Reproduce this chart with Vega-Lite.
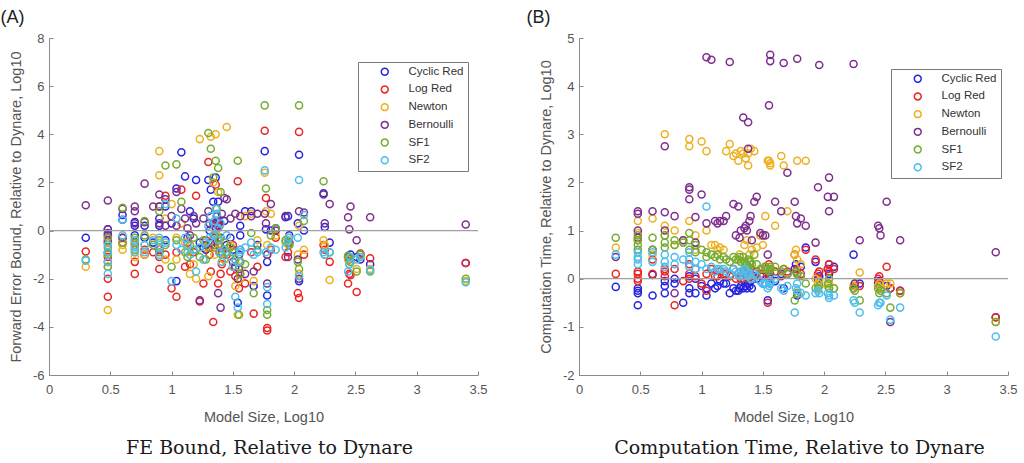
{
"$schema":"https://vega.github.io/schema/vega-lite/v6.json",
"background":"white",
"padding":{"left":0,"top":8,"right":8,"bottom":4},
"spacing":101,
"bounds":"flush",
"config":{"view":{"stroke":null},"font":"Liberation Sans",
"axis":{"grid":false,"domainColor":"#8a8a8a","tickColor":"#8a8a8a","tickSize":-4,"labelFontSize":13,"labelColor":"#555555","titleFontSize":14.5,"titleColor":"#555555","titleFontWeight":"normal","labelFont":"Liberation Sans","titleFont":"Liberation Sans"},
"legend":{"title":null,"orient":"none","direction":"vertical","strokeColor":"#7a7a7a","fillColor":"#ffffff","padding":4,"symbolOffset":17,"labelOffset":18,"rowPadding":3.7,"labelFontSize":11.5,"labelFont":"Liberation Sans","labelColor":"#333333","symbolSize":48,"symbolStrokeWidth":1.5,"symbolType":"circle"}},
"resolve":{"scale":{"color":"independent"},"legend":{"color":"independent"}},
"datasets":{"pts":[
{"m":"Cyclic Red","x":0.30,"fe":-0.3,"ct":-0.17},{"m":"Cyclic Red","x":0.48,"fe":0.05,"ct":-0.25},{"m":"Cyclic Red","x":0.48,"fe":-0.2,"ct":-0.3},{"m":"Cyclic Red","x":0.48,"fe":-0.9,"ct":-0.55},{"m":"Cyclic Red","x":0.48,"fe":-0.5,"ct":-0.2},{"m":"Cyclic Red","x":0.60,"fe":0.65,"ct":-0.35},{"m":"Cyclic Red","x":0.60,"fe":0.45,"ct":0.08},{"m":"Cyclic Red","x":0.70,"fe":0.35,"ct":-0.3},{"m":"Cyclic Red","x":0.70,"fe":0.2,"ct":-0.15},{"m":"Cyclic Red","x":0.70,"fe":-0.2,"ct":-0.05},{"m":"Cyclic Red","x":0.78,"fe":0.2,"ct":-0.1},{"m":"Cyclic Red","x":0.78,"fe":-0.3,"ct":0.0},{"m":"Cyclic Red","x":0.85,"fe":-0.5,"ct":-0.5},{"m":"Cyclic Red","x":0.90,"fe":0.2,"ct":-0.2},{"m":"Cyclic Red","x":0.90,"fe":-0.8,"ct":0.05},{"m":"Cyclic Red","x":0.90,"fe":0.5,"ct":-0.3},{"m":"Cyclic Red","x":0.95,"fe":1.0,"ct":-0.3},{"m":"Cyclic Red","x":0.95,"fe":-0.4,"ct":0.0},{"m":"Cyclic Red","x":1.00,"fe":0.3,"ct":-0.15},{"m":"Cyclic Red","x":1.04,"fe":1.75,"ct":-0.35},{"m":"Cyclic Red","x":1.04,"fe":-2.1,"ct":-0.2},{"m":"Cyclic Red","x":1.08,"fe":3.25,"ct":-0.1},{"m":"Cyclic Red","x":1.11,"fe":2.25,"ct":-0.2},{"m":"Cyclic Red","x":1.13,"fe":-0.3,"ct":-0.15},{"m":"Cyclic Red","x":1.15,"fe":0.8,"ct":-0.05},{"m":"Cyclic Red","x":1.18,"fe":0.5,"ct":-0.1},{"m":"Cyclic Red","x":1.20,"fe":2.1,"ct":-0.1},{"m":"Cyclic Red","x":1.23,"fe":-0.5,"ct":-0.3},{"m":"Cyclic Red","x":1.26,"fe":-0.7,"ct":-0.2},{"m":"Cyclic Red","x":1.28,"fe":-0.8,"ct":-0.25},{"m":"Cyclic Red","x":1.30,"fe":2.1,"ct":-0.25},{"m":"Cyclic Red","x":1.31,"fe":0.0,"ct":-0.2},{"m":"Cyclic Red","x":1.32,"fe":1.7,"ct":-0.15},{"m":"Cyclic Red","x":1.34,"fe":1.2,"ct":-0.2},{"m":"Cyclic Red","x":1.35,"fe":-0.6,"ct":-0.05},{"m":"Cyclic Red","x":1.36,"fe":2.2,"ct":-0.15},{"m":"Cyclic Red","x":1.37,"fe":0.6,"ct":-0.2},{"m":"Cyclic Red","x":1.38,"fe":1.2,"ct":-0.1},{"m":"Cyclic Red","x":1.38,"fe":0.2,"ct":-0.1},{"m":"Cyclic Red","x":1.39,"fe":0.3,"ct":-0.15},{"m":"Cyclic Red","x":1.40,"fe":-0.3,"ct":-0.05},{"m":"Cyclic Red","x":1.41,"fe":-0.9,"ct":-0.2},{"m":"Cyclic Red","x":1.43,"fe":0.4,"ct":0.05},{"m":"Cyclic Red","x":1.45,"fe":-0.6,"ct":0.0},{"m":"Cyclic Red","x":1.48,"fe":-0.3,"ct":0.05},{"m":"Cyclic Red","x":1.50,"fe":-0.8,"ct":-0.1},{"m":"Cyclic Red","x":1.52,"fe":-1.5,"ct":-0.1},{"m":"Cyclic Red","x":1.54,"fe":-3.0,"ct":-0.45},{"m":"Cyclic Red","x":1.55,"fe":-1.0,"ct":0.05},{"m":"Cyclic Red","x":1.56,"fe":-0.2,"ct":-0.1},{"m":"Cyclic Red","x":1.56,"fe":0.2,"ct":0.0},{"m":"Cyclic Red","x":1.60,"fe":0.8,"ct":-0.05},{"m":"Cyclic Red","x":1.65,"fe":0.8,"ct":0.1},{"m":"Cyclic Red","x":1.67,"fe":-2.3,"ct":-0.2},{"m":"Cyclic Red","x":1.70,"fe":-0.6,"ct":0.1},{"m":"Cyclic Red","x":1.76,"fe":3.3,"ct":0.2},{"m":"Cyclic Red","x":1.77,"fe":0.05,"ct":0.3},{"m":"Cyclic Red","x":1.78,"fe":-2.7,"ct":-0.35},{"m":"Cyclic Red","x":1.78,"fe":-1.3,"ct":0.1},{"m":"Cyclic Red","x":1.81,"fe":0.0,"ct":0.25},{"m":"Cyclic Red","x":1.85,"fe":0.1,"ct":0.65},{"m":"Cyclic Red","x":1.93,"fe":0.55,"ct":0.35},{"m":"Cyclic Red","x":1.95,"fe":0.6,"ct":0.0},{"m":"Cyclic Red","x":1.96,"fe":-0.2,"ct":0.05},{"m":"Cyclic Red","x":2.03,"fe":0.3,"ct":0.2},{"m":"Cyclic Red","x":2.04,"fe":3.15,"ct":0.3},{"m":"Cyclic Red","x":2.04,"fe":-2.1,"ct":0.1},{"m":"Cyclic Red","x":2.08,"fe":0.0,"ct":0.25},{"m":"Cyclic Red","x":2.24,"fe":1.55,"ct":0.5},{"m":"Cyclic Red","x":2.25,"fe":0.15,"ct":-0.15},{"m":"Cyclic Red","x":2.29,"fe":-0.5,"ct":-0.1},{"m":"Cyclic Red","x":2.44,"fe":-1.1,"ct":-0.1},{"m":"Cyclic Red","x":2.45,"fe":-1.2,"ct":-0.05},{"m":"Cyclic Red","x":2.46,"fe":-1.0,"ct":-0.2},{"m":"Cyclic Red","x":2.51,"fe":-1.1,"ct":-0.15},{"m":"Cyclic Red","x":2.54,"fe":-1.2,"ct":-0.2},{"m":"Cyclic Red","x":2.62,"fe":-1.4,"ct":-0.25},{"m":"Cyclic Red","x":3.40,"fe":-1.35,"ct":-0.8},
{"m":"Log Red","x":0.30,"fe":-0.87,"ct":0.1},{"m":"Log Red","x":0.48,"fe":-1.3,"ct":0.1},{"m":"Log Red","x":0.48,"fe":-2.75,"ct":-0.05},{"m":"Log Red","x":0.48,"fe":-2.0,"ct":0.15},{"m":"Log Red","x":0.48,"fe":-1.1,"ct":0.0},{"m":"Log Red","x":0.60,"fe":-0.3,"ct":0.4},{"m":"Log Red","x":0.60,"fe":-0.5,"ct":0.1},{"m":"Log Red","x":0.70,"fe":-1.8,"ct":0.15},{"m":"Log Red","x":0.70,"fe":-1.3,"ct":0.05},{"m":"Log Red","x":0.70,"fe":-0.6,"ct":0.2},{"m":"Log Red","x":0.78,"fe":-1.0,"ct":-0.55},{"m":"Log Red","x":0.78,"fe":-0.8,"ct":0.2},{"m":"Log Red","x":0.85,"fe":-0.9,"ct":-0.05},{"m":"Log Red","x":0.90,"fe":1.0,"ct":0.1},{"m":"Log Red","x":0.90,"fe":-1.6,"ct":0.3},{"m":"Log Red","x":0.90,"fe":-1.1,"ct":0.0},{"m":"Log Red","x":0.95,"fe":1.45,"ct":0.05},{"m":"Log Red","x":0.95,"fe":-1.0,"ct":0.2},{"m":"Log Red","x":1.00,"fe":-2.4,"ct":-0.1},{"m":"Log Red","x":1.04,"fe":-2.75,"ct":-0.25},{"m":"Log Red","x":1.04,"fe":-0.9,"ct":0.1},{"m":"Log Red","x":1.08,"fe":1.7,"ct":0.2},{"m":"Log Red","x":1.11,"fe":-1.5,"ct":0.05},{"m":"Log Red","x":1.13,"fe":-0.5,"ct":0.05},{"m":"Log Red","x":1.15,"fe":-1.4,"ct":0.15},{"m":"Log Red","x":1.18,"fe":-0.9,"ct":0.1},{"m":"Log Red","x":1.20,"fe":1.45,"ct":0.1},{"m":"Log Red","x":1.23,"fe":-2.95,"ct":0.05},{"m":"Log Red","x":1.26,"fe":-2.2,"ct":0.2},{"m":"Log Red","x":1.28,"fe":-0.4,"ct":0.0},{"m":"Log Red","x":1.30,"fe":2.85,"ct":0.1},{"m":"Log Red","x":1.31,"fe":-1.0,"ct":0.05},{"m":"Log Red","x":1.32,"fe":-1.7,"ct":0.0},{"m":"Log Red","x":1.34,"fe":-3.8,"ct":0.15},{"m":"Log Red","x":1.35,"fe":-0.7,"ct":0.1},{"m":"Log Red","x":1.36,"fe":1.9,"ct":0.1},{"m":"Log Red","x":1.37,"fe":0.4,"ct":0.1},{"m":"Log Red","x":1.38,"fe":-2.2,"ct":0.05},{"m":"Log Red","x":1.38,"fe":-0.6,"ct":0.0},{"m":"Log Red","x":1.39,"fe":0.2,"ct":0.15},{"m":"Log Red","x":1.40,"fe":-1.8,"ct":0.2},{"m":"Log Red","x":1.41,"fe":-1.4,"ct":0.0},{"m":"Log Red","x":1.43,"fe":-1.2,"ct":0.1},{"m":"Log Red","x":1.45,"fe":-1.0,"ct":0.15},{"m":"Log Red","x":1.48,"fe":-1.7,"ct":0.1},{"m":"Log Red","x":1.50,"fe":-0.6,"ct":0.05},{"m":"Log Red","x":1.52,"fe":-1.9,"ct":0.25},{"m":"Log Red","x":1.54,"fe":2.05,"ct":-0.5},{"m":"Log Red","x":1.55,"fe":-2.4,"ct":0.3},{"m":"Log Red","x":1.56,"fe":-1.3,"ct":0.1},{"m":"Log Red","x":1.56,"fe":-2.0,"ct":0.2},{"m":"Log Red","x":1.60,"fe":-2.2,"ct":0.15},{"m":"Log Red","x":1.65,"fe":-0.9,"ct":0.05},{"m":"Log Red","x":1.67,"fe":-3.45,"ct":0.2},{"m":"Log Red","x":1.70,"fe":-1.5,"ct":0.15},{"m":"Log Red","x":1.76,"fe":4.15,"ct":0.5},{"m":"Log Red","x":1.77,"fe":1.35,"ct":0.15},{"m":"Log Red","x":1.78,"fe":-4.05,"ct":-0.3},{"m":"Log Red","x":1.78,"fe":-4.15,"ct":0.2},{"m":"Log Red","x":1.81,"fe":-0.8,"ct":0.1},{"m":"Log Red","x":1.85,"fe":-0.3,"ct":0.6},{"m":"Log Red","x":1.93,"fe":-1.1,"ct":0.4},{"m":"Log Red","x":1.95,"fe":-0.9,"ct":0.1},{"m":"Log Red","x":1.96,"fe":-0.5,"ct":0.15},{"m":"Log Red","x":2.03,"fe":-2.6,"ct":0.2},{"m":"Log Red","x":2.04,"fe":4.1,"ct":0.3},{"m":"Log Red","x":2.04,"fe":-2.8,"ct":0.15},{"m":"Log Red","x":2.08,"fe":-1.0,"ct":0.2},{"m":"Log Red","x":2.24,"fe":-0.6,"ct":-0.2},{"m":"Log Red","x":2.25,"fe":-0.8,"ct":-0.15},{"m":"Log Red","x":2.29,"fe":-1.3,"ct":-0.15},{"m":"Log Red","x":2.44,"fe":-2.2,"ct":0.0},{"m":"Log Red","x":2.45,"fe":-1.8,"ct":0.05},{"m":"Log Red","x":2.46,"fe":-1.85,"ct":-0.1},{"m":"Log Red","x":2.51,"fe":-2.55,"ct":0.25},{"m":"Log Red","x":2.54,"fe":-0.95,"ct":-0.2},{"m":"Log Red","x":2.62,"fe":-1.15,"ct":-0.25},{"m":"Log Red","x":3.40,"fe":-1.35,"ct":-0.8},
{"m":"Newton","x":0.30,"fe":-1.5,"ct":0.65},{"m":"Newton","x":0.48,"fe":-3.3,"ct":1.2},{"m":"Newton","x":0.48,"fe":-0.5,"ct":0.8},{"m":"Newton","x":0.48,"fe":-1.5,"ct":0.95},{"m":"Newton","x":0.48,"fe":-1.0,"ct":0.6},{"m":"Newton","x":0.60,"fe":-0.8,"ct":1.25},{"m":"Newton","x":0.60,"fe":-0.6,"ct":0.5},{"m":"Newton","x":0.70,"fe":-0.9,"ct":3.0},{"m":"Newton","x":0.70,"fe":-1.1,"ct":1.1},{"m":"Newton","x":0.70,"fe":-0.4,"ct":0.9},{"m":"Newton","x":0.78,"fe":-0.6,"ct":1.0},{"m":"Newton","x":0.78,"fe":-1.0,"ct":0.7},{"m":"Newton","x":0.85,"fe":-0.3,"ct":0.8},{"m":"Newton","x":0.90,"fe":3.3,"ct":2.9},{"m":"Newton","x":0.90,"fe":2.3,"ct":2.75},{"m":"Newton","x":0.90,"fe":-0.5,"ct":1.2},{"m":"Newton","x":0.95,"fe":0.5,"ct":0.9},{"m":"Newton","x":0.95,"fe":-1.2,"ct":0.6},{"m":"Newton","x":1.00,"fe":1.1,"ct":2.85},{"m":"Newton","x":1.04,"fe":-0.3,"ct":2.65},{"m":"Newton","x":1.04,"fe":-1.2,"ct":1.0},{"m":"Newton","x":1.08,"fe":0.3,"ct":0.7},{"m":"Newton","x":1.11,"fe":-0.5,"ct":0.7},{"m":"Newton","x":1.13,"fe":-0.9,"ct":0.6},{"m":"Newton","x":1.15,"fe":-1.8,"ct":0.65},{"m":"Newton","x":1.18,"fe":-1.4,"ct":0.6},{"m":"Newton","x":1.20,"fe":-2.0,"ct":2.65},{"m":"Newton","x":1.23,"fe":3.8,"ct":2.8},{"m":"Newton","x":1.26,"fe":-1.2,"ct":2.55},{"m":"Newton","x":1.28,"fe":-0.7,"ct":2.6},{"m":"Newton","x":1.30,"fe":-1.9,"ct":2.45},{"m":"Newton","x":1.31,"fe":-0.5,"ct":0.5},{"m":"Newton","x":1.32,"fe":3.9,"ct":2.65},{"m":"Newton","x":1.34,"fe":2.0,"ct":2.6},{"m":"Newton","x":1.35,"fe":-1.0,"ct":0.7},{"m":"Newton","x":1.36,"fe":4.0,"ct":2.5},{"m":"Newton","x":1.37,"fe":-0.2,"ct":0.8},{"m":"Newton","x":1.38,"fe":1.6,"ct":2.35},{"m":"Newton","x":1.38,"fe":-0.8,"ct":2.6},{"m":"Newton","x":1.39,"fe":-0.4,"ct":0.5},{"m":"Newton","x":1.40,"fe":-0.9,"ct":2.7},{"m":"Newton","x":1.41,"fe":-1.3,"ct":0.6},{"m":"Newton","x":1.43,"fe":-1.2,"ct":2.65},{"m":"Newton","x":1.45,"fe":4.3,"ct":0.65},{"m":"Newton","x":1.48,"fe":-0.6,"ct":0.9},{"m":"Newton","x":1.50,"fe":-1.5,"ct":0.7},{"m":"Newton","x":1.52,"fe":-2.3,"ct":1.3},{"m":"Newton","x":1.54,"fe":-3.5,"ct":2.45},{"m":"Newton","x":1.55,"fe":-1.5,"ct":2.45},{"m":"Newton","x":1.56,"fe":-2.0,"ct":2.4},{"m":"Newton","x":1.56,"fe":-1.8,"ct":2.35},{"m":"Newton","x":1.60,"fe":0.6,"ct":1.1},{"m":"Newton","x":1.65,"fe":0.7,"ct":2.55},{"m":"Newton","x":1.67,"fe":-2.1,"ct":2.35},{"m":"Newton","x":1.70,"fe":-0.4,"ct":1.4},{"m":"Newton","x":1.76,"fe":2.4,"ct":0.5},{"m":"Newton","x":1.77,"fe":0.8,"ct":0.6},{"m":"Newton","x":1.78,"fe":-1.0,"ct":2.45},{"m":"Newton","x":1.78,"fe":-0.6,"ct":0.4},{"m":"Newton","x":1.81,"fe":0.7,"ct":0.3},{"m":"Newton","x":1.85,"fe":-0.2,"ct":2.45},{"m":"Newton","x":1.93,"fe":-0.5,"ct":0.0},{"m":"Newton","x":1.95,"fe":-0.3,"ct":-0.1},{"m":"Newton","x":1.96,"fe":-0.6,"ct":-0.05},{"m":"Newton","x":2.03,"fe":-1.0,"ct":-0.15},{"m":"Newton","x":2.04,"fe":0.2,"ct":-0.1},{"m":"Newton","x":2.04,"fe":-1.8,"ct":-0.2},{"m":"Newton","x":2.08,"fe":-0.8,"ct":-0.2},{"m":"Newton","x":2.24,"fe":-0.4,"ct":-0.15},{"m":"Newton","x":2.25,"fe":-0.6,"ct":-0.1},{"m":"Newton","x":2.29,"fe":-2.05,"ct":0.13},{"m":"Newton","x":2.44,"fe":-1.2,"ct":-0.15},{"m":"Newton","x":2.45,"fe":-1.4,"ct":-0.1},{"m":"Newton","x":2.46,"fe":-1.3,"ct":-0.2},{"m":"Newton","x":2.51,"fe":-1.6,"ct":-0.1},{"m":"Newton","x":2.54,"fe":-1.1,"ct":-0.1},{"m":"Newton","x":2.62,"fe":-1.6,"ct":-0.3},{"m":"Newton","x":3.40,"fe":-2.1,"ct":-0.9},
{"m":"Bernoulli","x":0.30,"fe":1.05,"ct":0.45},{"m":"Bernoulli","x":0.48,"fe":1.25,"ct":1.4},{"m":"Bernoulli","x":0.48,"fe":0.05,"ct":1.35},{"m":"Bernoulli","x":0.48,"fe":-0.4,"ct":1.0},{"m":"Bernoulli","x":0.48,"fe":-0.1,"ct":0.85},{"m":"Bernoulli","x":0.60,"fe":-0.3,"ct":1.4},{"m":"Bernoulli","x":0.60,"fe":0.9,"ct":0.6},{"m":"Bernoulli","x":0.70,"fe":1.0,"ct":2.75},{"m":"Bernoulli","x":0.70,"fe":0.8,"ct":1.38},{"m":"Bernoulli","x":0.70,"fe":0.3,"ct":1.0},{"m":"Bernoulli","x":0.78,"fe":1.95,"ct":1.3},{"m":"Bernoulli","x":0.78,"fe":0.35,"ct":-0.3},{"m":"Bernoulli","x":0.85,"fe":1.0,"ct":0.8},{"m":"Bernoulli","x":0.90,"fe":1.5,"ct":1.9},{"m":"Bernoulli","x":0.90,"fe":1.0,"ct":1.65},{"m":"Bernoulli","x":0.90,"fe":0.3,"ct":1.85},{"m":"Bernoulli","x":0.95,"fe":1.3,"ct":1.28},{"m":"Bernoulli","x":0.95,"fe":0.2,"ct":0.75},{"m":"Bernoulli","x":1.00,"fe":0.6,"ct":1.75},{"m":"Bernoulli","x":1.04,"fe":1.6,"ct":4.6},{"m":"Bernoulli","x":1.04,"fe":0.2,"ct":1.15},{"m":"Bernoulli","x":1.08,"fe":0.9,"ct":4.55},{"m":"Bernoulli","x":1.11,"fe":0.5,"ct":1.2},{"m":"Bernoulli","x":1.13,"fe":0.1,"ct":1.15},{"m":"Bernoulli","x":1.15,"fe":-0.2,"ct":1.2},{"m":"Bernoulli","x":1.18,"fe":0.6,"ct":1.2},{"m":"Bernoulli","x":1.20,"fe":0.3,"ct":1.3},{"m":"Bernoulli","x":1.23,"fe":-2.9,"ct":4.5},{"m":"Bernoulli","x":1.26,"fe":0.5,"ct":1.55},{"m":"Bernoulli","x":1.28,"fe":-0.6,"ct":0.9},{"m":"Bernoulli","x":1.30,"fe":0.8,"ct":1.5},{"m":"Bernoulli","x":1.31,"fe":0.3,"ct":0.85},{"m":"Bernoulli","x":1.32,"fe":-0.5,"ct":1.0},{"m":"Bernoulli","x":1.34,"fe":0.3,"ct":3.35},{"m":"Bernoulli","x":1.35,"fe":-0.3,"ct":1.05},{"m":"Bernoulli","x":1.36,"fe":0.1,"ct":1.1},{"m":"Bernoulli","x":1.37,"fe":0.6,"ct":1.0},{"m":"Bernoulli","x":1.38,"fe":-2.6,"ct":3.25},{"m":"Bernoulli","x":1.38,"fe":0.4,"ct":2.7},{"m":"Bernoulli","x":1.39,"fe":-0.9,"ct":1.2},{"m":"Bernoulli","x":1.40,"fe":-3.2,"ct":1.3},{"m":"Bernoulli","x":1.41,"fe":0.7,"ct":0.8},{"m":"Bernoulli","x":1.43,"fe":1.35,"ct":1.6},{"m":"Bernoulli","x":1.45,"fe":1.3,"ct":1.7},{"m":"Bernoulli","x":1.48,"fe":0.5,"ct":0.95},{"m":"Bernoulli","x":1.50,"fe":-1.3,"ct":0.9},{"m":"Bernoulli","x":1.52,"fe":0.7,"ct":0.9},{"m":"Bernoulli","x":1.54,"fe":-2.0,"ct":0.5},{"m":"Bernoulli","x":1.55,"fe":-1.6,"ct":3.6},{"m":"Bernoulli","x":1.56,"fe":-0.8,"ct":4.65},{"m":"Bernoulli","x":1.56,"fe":0.6,"ct":4.52},{"m":"Bernoulli","x":1.60,"fe":-1.8,"ct":1.6},{"m":"Bernoulli","x":1.65,"fe":0.6,"ct":1.4},{"m":"Bernoulli","x":1.67,"fe":-1.7,"ct":4.48},{"m":"Bernoulli","x":1.70,"fe":0.7,"ct":2.2},{"m":"Bernoulli","x":1.76,"fe":0.7,"ct":1.6},{"m":"Bernoulli","x":1.77,"fe":0.3,"ct":1.3},{"m":"Bernoulli","x":1.78,"fe":-2.2,"ct":4.57},{"m":"Bernoulli","x":1.78,"fe":-1.0,"ct":1.15},{"m":"Bernoulli","x":1.81,"fe":1.1,"ct":1.25},{"m":"Bernoulli","x":1.85,"fe":0.0,"ct":1.1},{"m":"Bernoulli","x":1.93,"fe":0.6,"ct":0.75},{"m":"Bernoulli","x":1.95,"fe":-1.1,"ct":1.9},{"m":"Bernoulli","x":1.96,"fe":-0.5,"ct":4.44},{"m":"Bernoulli","x":2.03,"fe":-1.2,"ct":1.7},{"m":"Bernoulli","x":2.04,"fe":0.8,"ct":2.1},{"m":"Bernoulli","x":2.04,"fe":-2.0,"ct":1.4},{"m":"Bernoulli","x":2.08,"fe":0.75,"ct":1.7},{"m":"Bernoulli","x":2.24,"fe":1.5,"ct":4.46},{"m":"Bernoulli","x":2.25,"fe":0.3,"ct":-0.1},{"m":"Bernoulli","x":2.29,"fe":1.1,"ct":0.8},{"m":"Bernoulli","x":2.44,"fe":0.55,"ct":1.1},{"m":"Bernoulli","x":2.45,"fe":0.05,"ct":1.05},{"m":"Bernoulli","x":2.46,"fe":1.0,"ct":0.9},{"m":"Bernoulli","x":2.51,"fe":-0.4,"ct":1.6},{"m":"Bernoulli","x":2.54,"fe":-1.0,"ct":-0.9},{"m":"Bernoulli","x":2.62,"fe":0.55,"ct":0.8},{"m":"Bernoulli","x":3.40,"fe":0.25,"ct":0.55},
{"m":"SF1","x":0.30,"fe":-1.2,"ct":0.85},{"m":"SF1","x":0.48,"fe":-0.7,"ct":0.9},{"m":"SF1","x":0.48,"fe":-1.0,"ct":0.7},{"m":"SF1","x":0.48,"fe":-0.3,"ct":0.6},{"m":"SF1","x":0.48,"fe":-1.5,"ct":0.8},{"m":"SF1","x":0.60,"fe":0.95,"ct":0.85},{"m":"SF1","x":0.60,"fe":-0.5,"ct":0.6},{"m":"SF1","x":0.70,"fe":-0.5,"ct":0.9},{"m":"SF1","x":0.70,"fe":-0.3,"ct":0.75},{"m":"SF1","x":0.70,"fe":-0.8,"ct":0.65},{"m":"SF1","x":0.78,"fe":0.4,"ct":0.8},{"m":"SF1","x":0.78,"fe":-0.2,"ct":0.7},{"m":"SF1","x":0.85,"fe":-0.6,"ct":0.75},{"m":"SF1","x":0.90,"fe":-0.4,"ct":0.95},{"m":"SF1","x":0.90,"fe":-0.9,"ct":0.8},{"m":"SF1","x":0.90,"fe":0.8,"ct":0.6},{"m":"SF1","x":0.95,"fe":2.7,"ct":0.7},{"m":"SF1","x":0.95,"fe":-0.6,"ct":0.55},{"m":"SF1","x":1.00,"fe":-1.5,"ct":0.6},{"m":"SF1","x":1.04,"fe":2.75,"ct":0.55},{"m":"SF1","x":1.04,"fe":-0.4,"ct":0.45},{"m":"SF1","x":1.08,"fe":1.2,"ct":0.5},{"m":"SF1","x":1.11,"fe":-0.9,"ct":0.45},{"m":"SF1","x":1.13,"fe":-1.1,"ct":0.5},{"m":"SF1","x":1.15,"fe":-0.6,"ct":0.4},{"m":"SF1","x":1.18,"fe":-0.3,"ct":0.45},{"m":"SF1","x":1.20,"fe":-0.8,"ct":0.4},{"m":"SF1","x":1.23,"fe":-1.1,"ct":0.35},{"m":"SF1","x":1.26,"fe":-0.4,"ct":0.45},{"m":"SF1","x":1.28,"fe":-1.2,"ct":0.4},{"m":"SF1","x":1.30,"fe":4.05,"ct":0.4},{"m":"SF1","x":1.31,"fe":-0.7,"ct":0.45},{"m":"SF1","x":1.32,"fe":3.4,"ct":0.35},{"m":"SF1","x":1.34,"fe":2.2,"ct":0.45},{"m":"SF1","x":1.35,"fe":-0.2,"ct":0.35},{"m":"SF1","x":1.36,"fe":2.9,"ct":0.3},{"m":"SF1","x":1.37,"fe":0.9,"ct":0.3},{"m":"SF1","x":1.38,"fe":2.6,"ct":0.4},{"m":"SF1","x":1.38,"fe":-0.3,"ct":0.25},{"m":"SF1","x":1.39,"fe":-0.6,"ct":0.35},{"m":"SF1","x":1.40,"fe":1.6,"ct":0.35},{"m":"SF1","x":1.41,"fe":-1.0,"ct":0.3},{"m":"SF1","x":1.43,"fe":-0.5,"ct":0.5},{"m":"SF1","x":1.45,"fe":-0.9,"ct":0.3},{"m":"SF1","x":1.48,"fe":-0.7,"ct":0.2},{"m":"SF1","x":1.50,"fe":-0.9,"ct":0.2},{"m":"SF1","x":1.52,"fe":-1.2,"ct":0.25},{"m":"SF1","x":1.54,"fe":2.9,"ct":0.2},{"m":"SF1","x":1.55,"fe":-3.5,"ct":0.15},{"m":"SF1","x":1.56,"fe":-1.8,"ct":0.25},{"m":"SF1","x":1.56,"fe":-1.3,"ct":0.2},{"m":"SF1","x":1.60,"fe":-1.4,"ct":0.25},{"m":"SF1","x":1.65,"fe":-0.1,"ct":0.15},{"m":"SF1","x":1.67,"fe":-2.6,"ct":0.2},{"m":"SF1","x":1.70,"fe":-0.8,"ct":0.1},{"m":"SF1","x":1.76,"fe":5.2,"ct":-0.45},{"m":"SF1","x":1.77,"fe":1.75,"ct":0.15},{"m":"SF1","x":1.78,"fe":-3.5,"ct":0.1},{"m":"SF1","x":1.78,"fe":-3.3,"ct":-0.3},{"m":"SF1","x":1.81,"fe":-0.2,"ct":0.05},{"m":"SF1","x":1.85,"fe":0.1,"ct":-0.1},{"m":"SF1","x":1.93,"fe":-0.4,"ct":-0.2},{"m":"SF1","x":1.95,"fe":-0.5,"ct":-0.2},{"m":"SF1","x":1.96,"fe":-0.6,"ct":-0.15},{"m":"SF1","x":2.03,"fe":-1.3,"ct":-0.1},{"m":"SF1","x":2.04,"fe":5.2,"ct":0.0},{"m":"SF1","x":2.04,"fe":-1.6,"ct":-0.2},{"m":"SF1","x":2.08,"fe":0.4,"ct":-0.2},{"m":"SF1","x":2.24,"fe":2.05,"ct":-0.2},{"m":"SF1","x":2.25,"fe":-1.0,"ct":-0.25},{"m":"SF1","x":2.29,"fe":-0.9,"ct":-0.45},{"m":"SF1","x":2.44,"fe":-1.05,"ct":-0.2},{"m":"SF1","x":2.45,"fe":-1.1,"ct":-0.3},{"m":"SF1","x":2.46,"fe":-1.3,"ct":-0.25},{"m":"SF1","x":2.51,"fe":-1.7,"ct":-0.3},{"m":"SF1","x":2.54,"fe":-1.0,"ct":-0.6},{"m":"SF1","x":2.62,"fe":-1.7,"ct":-0.3},{"m":"SF1","x":3.40,"fe":-2.0,"ct":-0.9},
{"m":"SF2","x":0.30,"fe":-1.25,"ct":0.5},{"m":"SF2","x":0.48,"fe":-1.8,"ct":0.55},{"m":"SF2","x":0.48,"fe":-1.3,"ct":0.4},{"m":"SF2","x":0.48,"fe":-0.6,"ct":0.3},{"m":"SF2","x":0.48,"fe":-0.9,"ct":0.45},{"m":"SF2","x":0.60,"fe":0.45,"ct":0.55},{"m":"SF2","x":0.60,"fe":-0.2,"ct":0.35},{"m":"SF2","x":0.70,"fe":-0.7,"ct":0.5},{"m":"SF2","x":0.70,"fe":-0.9,"ct":0.35},{"m":"SF2","x":0.70,"fe":-0.4,"ct":0.25},{"m":"SF2","x":0.78,"fe":-0.6,"ct":0.45},{"m":"SF2","x":0.78,"fe":-0.9,"ct":0.3},{"m":"SF2","x":0.85,"fe":-0.4,"ct":0.4},{"m":"SF2","x":0.90,"fe":-0.7,"ct":0.55},{"m":"SF2","x":0.90,"fe":-0.3,"ct":0.4},{"m":"SF2","x":0.90,"fe":-1.0,"ct":0.25},{"m":"SF2","x":0.95,"fe":1.1,"ct":0.35},{"m":"SF2","x":0.95,"fe":-0.5,"ct":0.2},{"m":"SF2","x":1.00,"fe":-2.1,"ct":0.3},{"m":"SF2","x":1.04,"fe":-0.6,"ct":1.5},{"m":"SF2","x":1.04,"fe":0.5,"ct":0.2},{"m":"SF2","x":1.08,"fe":-0.8,"ct":0.25},{"m":"SF2","x":1.11,"fe":-0.3,"ct":0.15},{"m":"SF2","x":1.13,"fe":-0.6,"ct":0.2},{"m":"SF2","x":1.15,"fe":-1.0,"ct":0.2},{"m":"SF2","x":1.18,"fe":-0.8,"ct":0.2},{"m":"SF2","x":1.20,"fe":-1.7,"ct":0.15},{"m":"SF2","x":1.23,"fe":-0.7,"ct":0.1},{"m":"SF2","x":1.26,"fe":-1.2,"ct":0.2},{"m":"SF2","x":1.28,"fe":-0.5,"ct":0.15},{"m":"SF2","x":1.30,"fe":0.2,"ct":0.1},{"m":"SF2","x":1.31,"fe":-0.3,"ct":0.05},{"m":"SF2","x":1.32,"fe":0.6,"ct":0.15},{"m":"SF2","x":1.34,"fe":-0.2,"ct":0.05},{"m":"SF2","x":1.35,"fe":0.4,"ct":0.2},{"m":"SF2","x":1.36,"fe":0.9,"ct":0.2},{"m":"SF2","x":1.37,"fe":0.7,"ct":0.15},{"m":"SF2","x":1.38,"fe":-0.4,"ct":0.1},{"m":"SF2","x":1.38,"fe":0.1,"ct":0.05},{"m":"SF2","x":1.39,"fe":-0.9,"ct":0.1},{"m":"SF2","x":1.40,"fe":0.3,"ct":0.0},{"m":"SF2","x":1.41,"fe":-1.3,"ct":0.0},{"m":"SF2","x":1.43,"fe":-0.8,"ct":0.1},{"m":"SF2","x":1.45,"fe":-0.2,"ct":0.05},{"m":"SF2","x":1.48,"fe":-1.1,"ct":-0.05},{"m":"SF2","x":1.50,"fe":-1.5,"ct":-0.1},{"m":"SF2","x":1.52,"fe":-2.75,"ct":-0.1},{"m":"SF2","x":1.54,"fe":-3.2,"ct":-0.2},{"m":"SF2","x":1.55,"fe":-1.3,"ct":-0.15},{"m":"SF2","x":1.56,"fe":-0.9,"ct":-0.05},{"m":"SF2","x":1.56,"fe":-0.8,"ct":-0.1},{"m":"SF2","x":1.60,"fe":-0.7,"ct":0.0},{"m":"SF2","x":1.65,"fe":-0.5,"ct":-0.2},{"m":"SF2","x":1.67,"fe":-1.0,"ct":-0.25},{"m":"SF2","x":1.70,"fe":-0.9,"ct":-0.15},{"m":"SF2","x":1.76,"fe":2.5,"ct":-0.7},{"m":"SF2","x":1.77,"fe":-0.9,"ct":-0.2},{"m":"SF2","x":1.78,"fe":-3.05,"ct":-0.25},{"m":"SF2","x":1.78,"fe":-2.35,"ct":-0.1},{"m":"SF2","x":1.81,"fe":-0.7,"ct":-0.3},{"m":"SF2","x":1.85,"fe":-0.8,"ct":-0.35},{"m":"SF2","x":1.93,"fe":-0.7,"ct":-0.3},{"m":"SF2","x":1.95,"fe":-0.4,"ct":-0.25},{"m":"SF2","x":1.96,"fe":-0.3,"ct":-0.3},{"m":"SF2","x":2.03,"fe":-0.3,"ct":-0.3},{"m":"SF2","x":2.04,"fe":2.1,"ct":-0.4},{"m":"SF2","x":2.04,"fe":-1.9,"ct":-0.35},{"m":"SF2","x":2.08,"fe":0.65,"ct":-0.35},{"m":"SF2","x":2.24,"fe":-0.9,"ct":-0.45},{"m":"SF2","x":2.25,"fe":-1.0,"ct":-0.5},{"m":"SF2","x":2.29,"fe":-0.9,"ct":-0.7},{"m":"SF2","x":2.44,"fe":-1.7,"ct":-0.55},{"m":"SF2","x":2.45,"fe":-1.4,"ct":-0.5},{"m":"SF2","x":2.46,"fe":-1.1,"ct":-0.5},{"m":"SF2","x":2.51,"fe":-1.2,"ct":-0.35},{"m":"SF2","x":2.54,"fe":-1.1,"ct":-0.85},{"m":"SF2","x":2.62,"fe":-1.65,"ct":-0.6},{"m":"SF2","x":3.40,"fe":-2.15,"ct":-1.2}
]},
"hconcat":[
{"width":429,"height":337,
"title":{"text":"FE Bound, Relative to Dynare","orient":"bottom","anchor":"middle","font":"DejaVu Serif","fontSize":19,"fontWeight":"normal","color":"#1a1a1a","offset":15,"dx":6},
"resolve":{"axis":{"x":"independent"}},
"layer":[
{"data":{"name":"pts"},
"mark":{"type":"point","shape":"circle","filled":false,"size":50,"strokeWidth":1.5,"opacity":1},
"encoding":{
"x":{"field":"x","type":"quantitative","scale":{"domain":[0,3.5],"nice":false,"zero":false},"axis":{"title":"Model Size, Log10","values":[0,0.5,1,1.5,2,2.5,3,3.5],"labelExpr":"datum.value + ''","labelFlush":false,"labelPadding":12.5,"titlePadding":13.5}},
"y":{"field":"fe","type":"quantitative","scale":{"domain":[-6,8],"nice":false,"zero":false},"axis":{"title":"Forward Error Bound, Relative to Dynare, Log10","values":[-6,-4,-2,0,2,4,6,8],"labelExpr":"datum.value + ''","labelPadding":9,"titlePadding":9}},
"color":{"field":"m","type":"nominal","scale":{"domain":["Cyclic Red","Log Red","Newton","Bernoulli","SF1","SF2"],"range":["#2525e0","#ec2424","#EDB120","#7E2F8E","#77AC30","#4DBEEE"]},"legend":{"legendX":309,"legendY":24}}}},
{"data":{"values":[{}]},
"mark":{"type":"rule","color":"#a0a0a0","strokeWidth":1.2},
"encoding":{
"x":{"datum":0,"type":"quantitative","scale":{"domain":[0,3.5],"nice":false,"zero":false},"axis":{"orient":"top","title":"(A)","labels":false,"ticks":false,"domain":false,"titleX":-49,"titleY":-16,"titleAlign":"left","titleBaseline":"alphabetic","titleAngle":0,"titleFontSize":18,"titleColor":"#222222"}},
"x2":{"datum":3.5},
"y":{"datum":0,"type":"quantitative"}}}
]},
{"width":429,"height":337,
"title":{"text":"Computation Time, Relative to Dynare","orient":"bottom","anchor":"middle","font":"DejaVu Serif","fontSize":19,"fontWeight":"normal","color":"#1a1a1a","offset":15,"dx":6},
"resolve":{"axis":{"x":"independent"}},
"layer":[
{"data":{"name":"pts"},
"mark":{"type":"point","shape":"circle","filled":false,"size":50,"strokeWidth":1.5,"opacity":1},
"encoding":{
"x":{"field":"x","type":"quantitative","scale":{"domain":[0,3.5],"nice":false,"zero":false},"axis":{"title":"Model Size, Log10","values":[0,0.5,1,1.5,2,2.5,3,3.5],"labelExpr":"datum.value + ''","labelFlush":false,"labelPadding":12.5,"titlePadding":13.5}},
"y":{"field":"ct","type":"quantitative","scale":{"domain":[-2,5],"nice":false,"zero":false},"axis":{"title":"Computation Time, Relative to Dynare, Log10","values":[-2,-1,0,1,2,3,4,5],"labelExpr":"datum.value + ''","labelPadding":9,"titlePadding":9}},
"color":{"field":"m","type":"nominal","scale":{"domain":["Cyclic Red","Log Red","Newton","Bernoulli","SF1","SF2"],"range":["#2525e0","#ec2424","#EDB120","#7E2F8E","#77AC30","#4DBEEE"]},"legend":{"legendX":312,"legendY":31}}}},
{"data":{"values":[{}]},
"mark":{"type":"rule","color":"#a0a0a0","strokeWidth":1.2},
"encoding":{
"x":{"datum":0,"type":"quantitative","scale":{"domain":[0,3.5],"nice":false,"zero":false},"axis":{"orient":"top","title":"(B)","labels":false,"ticks":false,"domain":false,"titleX":-53,"titleY":-16,"titleAlign":"left","titleBaseline":"alphabetic","titleAngle":0,"titleFontSize":18,"titleColor":"#222222"}},
"x2":{"datum":3.5},
"y":{"datum":0,"type":"quantitative"}}}
]}
]
}
